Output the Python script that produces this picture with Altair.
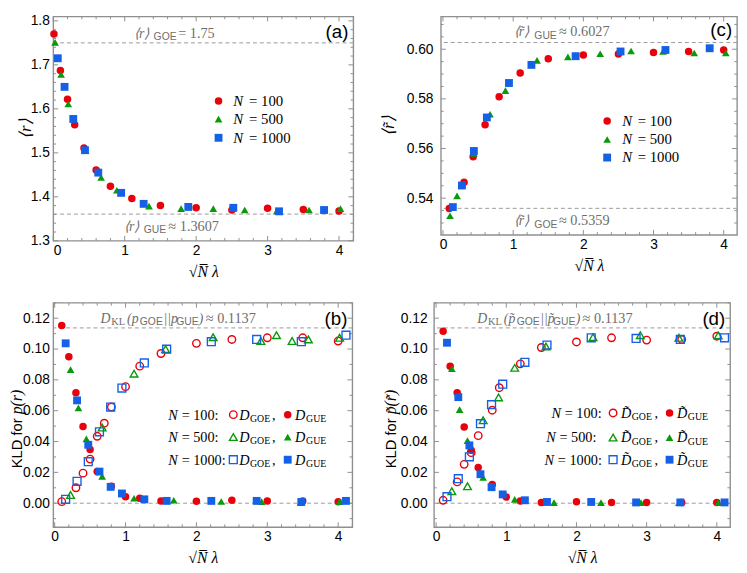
import altair as alt
import pandas as pd

SERIF = "Liberation Serif"
SANS = "Liberation Sans"
RED, GREEN, BLUE = "#e8000b", "#0a990a", "#1461e6"
TGRAY = "#6e6e6e"
DGRAY = "#9a9a9a"
FRAME = "#8f8f8f"

KEYS = ["100", "500", "1000"]

# ---------------- data: panel (a) <r> ----------------
a100_x = [0.01, 0.1, 0.2, 0.3, 0.43, 0.6, 0.8, 1.1, 1.5, 2.0, 2.5, 3.0, 3.5, 4.0]
a100_y = [1.770, 1.687, 1.622, 1.564, 1.511, 1.461, 1.424, 1.396, 1.380, 1.375, 1.370, 1.374, 1.371, 1.368]
a500_x = [0.025, 0.11, 0.21, 0.45, 0.67, 0.89, 1.34, 1.79, 2.24, 2.68, 3.13, 3.58, 4.02]
a500_y = [1.751, 1.678, 1.611, 1.505, 1.444, 1.415, 1.379, 1.373, 1.373, 1.370, 1.368, 1.370, 1.373]
a1000_x = [0.063, 0.158, 0.28, 0.444, 0.63, 0.95, 1.265, 1.89, 2.52, 3.16, 3.79]
a1000_y = [1.715, 1.650, 1.577, 1.506, 1.455, 1.409, 1.384, 1.377, 1.375, 1.367, 1.370]

# ---------------- data: panel (c) <r~> ----------------
c100_x = [0.09, 0.3, 0.43, 0.6, 0.8, 1.1, 1.5, 2.0, 2.5, 3.0, 3.5, 4.0]
c100_y = [0.5358, 0.5464, 0.5567, 0.5696, 0.5809, 0.5904, 0.5962, 0.5977, 0.5981, 0.5987, 0.5991, 0.5997]
c500_x = [0.10, 0.20, 0.44, 0.67, 0.89, 1.34, 1.78, 2.24, 2.68, 3.135, 3.58, 4.03]
c500_y = [0.5329, 0.5409, 0.5580, 0.5738, 0.5833, 0.5955, 0.5969, 0.5982, 0.5993, 0.5991, 0.5985, 0.5985]
c1000_x = [0.14, 0.27, 0.44, 0.625, 0.94, 1.26, 1.89, 2.53, 3.17, 3.80]
c1000_y = [0.5364, 0.5451, 0.5590, 0.5725, 0.5864, 0.5937, 0.5972, 0.5991, 0.5997, 0.6004]

# ---------------- data: panel (b) KLD for p(r) ----------------
b100_goe_x = [0.1, 0.3, 0.4, 0.5, 0.6, 0.7, 0.8, 1.0, 1.2, 1.5, 2.0, 2.5, 3.0, 3.5, 4.0]
b100_goe_y = [0.0010, 0.0100, 0.0195, 0.0286, 0.0434, 0.0519, 0.0624, 0.0756, 0.0889, 0.0971, 0.1037, 0.1062, 0.1073, 0.1073, 0.1052]
b100_gue_x = [0.1, 0.2, 0.3, 0.4, 0.5, 0.6, 0.8, 1.0, 1.2, 1.5, 2.0, 2.5, 3.0, 3.5, 4.0]
b100_gue_y = [0.1153, 0.0950, 0.0717, 0.0497, 0.0349, 0.0205, 0.0110, 0.0042, 0.0032, 0.0015, 0.0013, 0.0019, 0.0015, 0.0015, 0.0010]
b500_goe_x = [0.224, 0.67, 1.12, 1.565, 2.236, 2.91, 3.13, 3.35, 3.58, 4.02]
b500_goe_y = [0.0053, 0.0491, 0.0840, 0.0999, 0.1077, 0.1052, 0.1090, 0.1052, 0.1062, 0.1073]
b500_gue_x = [0.224, 0.335, 0.447, 0.67, 1.12, 1.68, 2.35, 2.92, 3.47, 4.02]
b500_gue_y = [0.0866, 0.0618, 0.0417, 0.0174, 0.0032, 0.0019, 0.0011, 0.0010, 0.0004, 0.0010]
b1000_x = [0.155, 0.316, 0.474, 0.632, 0.79, 0.949, 1.265, 1.58, 2.21, 2.85, 3.48, 4.11]
b1000_goe_y = [0.0025, 0.0142, 0.0269, 0.0463, 0.0624, 0.0747, 0.0910, 0.0999, 0.1048, 0.1062, 0.1048, 0.1090]
b1000_gue_y = [0.1037, 0.0667, 0.0379, 0.0205, 0.0106, 0.0063, 0.0025, 0.0015, 0.0015, 0.0015, 0.0008, 0.0015]

# ---------------- data: panel (d) KLD for p~(r~) ----------------
d100_goe_x = [0.1, 0.3, 0.4, 0.5, 0.6, 0.8, 0.9, 1.2, 1.5, 2.0, 2.5, 3.0, 3.5, 4.0]
d100_goe_y = [0.0019, 0.0138, 0.0252, 0.0328, 0.0438, 0.0603, 0.0749, 0.0904, 0.1010, 0.1046, 0.1073, 0.1058, 0.1062, 0.1083]
d100_gue_x = [0.1, 0.2, 0.3, 0.4, 0.5, 0.6, 0.8, 1.0, 1.2, 1.5, 2.0, 2.5, 3.0, 3.5, 4.0]
d100_gue_y = [0.1115, 0.0889, 0.0717, 0.0495, 0.0343, 0.0231, 0.0121, 0.0040, 0.0015, 0.0005, 0.0009, 0.0005, 0.0005, 0.0005, 0.0005]
d500_goe_x = [0.224, 0.447, 0.67, 0.89, 1.12, 1.565, 2.236, 2.91, 3.46, 4.02]
d500_goe_y = [0.0078, 0.0110, 0.0538, 0.0686, 0.0878, 0.1016, 0.1077, 0.1090, 0.1073, 0.1088]
d500_gue_x = [0.224, 0.335, 0.447, 0.67, 1.12, 1.68, 2.35, 2.92, 3.46, 4.02]
d500_gue_y = [0.0872, 0.0607, 0.0406, 0.0167, 0.0025, 0.0004, 0.0004, 0.0004, 0.0004, 0.0004]
d1000_x = [0.155, 0.316, 0.474, 0.632, 0.79, 0.949, 1.265, 1.58, 2.21, 2.85, 3.48, 4.11]
d1000_goe_y = [0.0042, 0.0159, 0.0301, 0.0516, 0.0639, 0.0772, 0.0914, 0.1026, 0.1073, 0.1069, 0.1062, 0.1073]
d1000_gue_y = [0.1041, 0.0688, 0.0375, 0.0188, 0.0104, 0.0057, 0.0019, 0.0008, 0.0008, 0.0005, 0.0005, 0.0005]

# reference lines
a_lines = [1.75, 1.3607]
c_lines = [0.6027, 0.5359]
kl_lines = [0.0, 0.1137]

# tick labels
x_major = [0, 1, 2, 3, 4]
a_y_major = [1.3, 1.4, 1.5, 1.6, 1.7, 1.8]
c_y_major = [0.54, 0.56, 0.58, 0.60]
kl_y_major = [0.0, 0.02, 0.04, 0.06, 0.08, 0.10, 0.12]

csc = alt.Scale(domain=KEYS, range=[RED, GREEN, BLUE])
ssc = alt.Scale(domain=KEYS, range=["circle", "triangle-up", "square"])
zsc = alt.Scale(domain=KEYS, range=[58, 64, 52])


def make_df(series):
    rows = []
    for key, kind, xs, ys in series:
        for x, y in zip(xs, ys):
            rows.append({"x": x, "y": y, "N": key, "kind": kind})
    return pd.DataFrame(rows)


def T(text, px, py, size=14.5, font=SERIF, style="normal", color="black",
      align="left", baseline="alphabetic", angle=0):
    return alt.Chart(pd.DataFrame({"t": [text]})).mark_text(
        align=align, baseline=baseline, font=font, fontSize=size,
        fontStyle=style, color=color, angle=angle
    ).encode(text="t:N", x=alt.value(px), y=alt.value(py))


def S(key, filled, px, py):
    return alt.Chart(pd.DataFrame({"N": [key]})).mark_point(
        filled=filled, opacity=1, strokeWidth=(0 if filled else 1.4)
    ).encode(
        x=alt.value(px), y=alt.value(py),
        color=alt.Color("N:N", scale=csc, legend=None),
        shape=alt.Shape("N:N", scale=ssc, legend=None),
        size=alt.Size("N:N", scale=zsc, legend=None),
    )


def frange(lo, hi, step):
    out = []
    i = 0
    while True:
        v = round(lo + i * step, 6)
        if v > hi + 1e-9:
            break
        out.append(v)
        i += 1
    return out


def panel(W, H, xdom, ydom, yvals, yfmt, ylp, ymin_step, series, lines, extra):
    xsc = alt.Scale(domain=xdom, nice=False, zero=False)
    ysc = alt.Scale(domain=ydom, nice=False, zero=False)
    xax = alt.Axis(values=x_major, format="d", title="√N̅ λ", ticks=False, tickSize=0,
                   domain=False, grid=False, labelPadding=3, titlePadding=6)
    yax = alt.Axis(values=yvals, format=yfmt, title=None, ticks=False, tickSize=0,
                   domain=False, grid=False, labelPadding=ylp)
    XE = alt.X("x:Q", scale=xsc, axis=xax, title="√N̅ λ")
    YE = alt.Y("y:Q", scale=ysc, axis=yax, title=None)
    df = make_df(series)
    layers = []
    # dashed reference lines
    layers.append(alt.Chart(pd.DataFrame({"y": lines})).mark_rule(
        color=DGRAY, strokeDash=[4, 3], strokeWidth=1).encode(y=YE))
    # ticks (inward, all four sides)
    xmin_t = [v for v in frange(0, 4.2, 0.2) if xdom[0] <= v <= xdom[1] and abs(v - round(v)) > 1e-6]
    ymaj_t = [v for v in yvals if ydom[0] <= v <= ydom[1]]
    ymin_t = [v for v in frange(ymin_step * int(ydom[0] / ymin_step), ydom[1], ymin_step)
              if ydom[0] <= v <= ydom[1] and min(abs(v - m) for m in yvals) > 1e-6]
    for vals, ln in [(x_major, 5), (xmin_t, 2.8)]:
        tdf = pd.DataFrame({"x": vals})
        layers.append(alt.Chart(tdf).mark_rule(color=FRAME, strokeWidth=1).encode(
            x=XE, y=alt.value(H), y2=alt.value(H - ln)))
        layers.append(alt.Chart(tdf).mark_rule(color=FRAME, strokeWidth=1).encode(
            x=XE, y=alt.value(0), y2=alt.value(ln)))
    for vals, ln in [(ymaj_t, 5), (ymin_t, 2.8)]:
        tdf = pd.DataFrame({"y": vals})
        layers.append(alt.Chart(tdf).mark_rule(color=FRAME, strokeWidth=1).encode(
            y=YE, x=alt.value(0), x2=alt.value(ln)))
        layers.append(alt.Chart(tdf).mark_rule(color=FRAME, strokeWidth=1).encode(
            y=YE, x=alt.value(W), x2=alt.value(W - ln)))
    # data points
    for key in KEYS:
        for kind in ["GOE", "GUE", "avg"]:
            sub = df[(df.N == key) & (df.kind == kind)]
            if len(sub) == 0:
                continue
            filled = kind != "GOE"
            layers.append(alt.Chart(sub).mark_point(
                filled=filled, opacity=1, strokeWidth=(0 if filled else 1.4)).encode(
                x=XE, y=YE,
                color=alt.Color("N:N", scale=csc, legend=None),
                shape=alt.Shape("N:N", scale=ssc, legend=None),
                size=alt.Size("N:N", scale=zsc, legend=None)))
    layers.extend(extra)
    return alt.layer(*layers).properties(width=W, height=H)


def py(v, H, ydom):
    return H * (ydom[1] - v) / (ydom[1] - ydom[0])


def runs(lst, base):
    out = []
    for text, px, kind in lst:
        if kind == "it":
            out.append(T(text, px, base, 14, SERIF, "italic", TGRAY))
        elif kind == "rm":
            out.append(T(text, px, base, 14.5, SERIF, "normal", TGRAY))
        elif kind == "sub":
            out.append(T(text, px, base + 2.5, 10.5, SANS, "normal", TGRAY))
        elif kind == "subs":
            out.append(T(text, px, base + 2.5, 10.5, SERIF, "normal", TGRAY))
    return out


# ---------------- panel (a) ----------------
AW, AH = 305, 228
A_xd, A_yd = [0, 4.2], [1.3, 1.81]
a_extra = []
a_extra += runs([("⟨r⟩", 82, "it"), ("GOE", 102, "sub"), ("= 1.75", 127, "rm")], py(1.75, AH, A_yd) - 5)
a_extra += runs([("⟨r⟩", 72, "it"), ("GUE", 92, "sub"), ("≈ 1.3607", 117, "rm")], py(1.3607, AH, A_yd) + 17)
for key, ry, lab in [("100", 86, "= 100"), ("500", 104.3, "= 500"), ("1000", 123.3, "= 1000")]:
    a_extra.append(S(key, True, 168, ry))
    a_extra.append(T("N", 183, ry + 5, 15, SERIF, "italic"))
    a_extra.append(T(lab, 199, ry + 5, 15, SERIF))
a_extra.append(T("(a)", AW - 5, 22, 19, SANS, align="right"))
a_extra.append(T("⟨r⟩", -28, AH / 2, 17, SERIF, "italic", align="center", baseline="middle", angle=270))
A = panel(AW, AH, A_xd, A_yd, a_y_major, ".1f", 4, 0.02,
          [("100", "avg", a100_x, a100_y), ("500", "avg", a500_x, a500_y), ("1000", "avg", a1000_x, a1000_y)],
          a_lines, a_extra)

# ---------------- panel (c) ----------------
CW, CH = 301, 222
C_xd, C_yd = [-0.03, 4.19], [0.5252, 0.6132]
c_extra = []
c_extra += runs([("⟨r̃⟩", 74, "it"), ("GUE", 95, "sub"), ("≈ 0.6027", 120, "rm")], py(0.6027, CH, C_yd) - 6.5)
c_extra += runs([("⟨r̃⟩", 74, "it"), ("GOE", 95, "sub"), ("≈ 0.5359", 120, "rm")], py(0.5359, CH, C_yd) + 17)
for key, ry, lab in [("100", 106.3, "= 100"), ("500", 125, "= 500"), ("1000", 143.4, "= 1000")]:
    c_extra.append(S(key, True, 169, ry))
    c_extra.append(T("N", 184.4, ry + 5, 15, SERIF, "italic"))
    c_extra.append(T(lab, 200, ry + 5, 15, SERIF))
c_extra.append(T("(c)", CW - 5, 20, 19, SANS, align="right"))
c_extra.append(T("⟨r̃⟩", -53, CH / 2, 17, SERIF, "italic", align="center", baseline="middle", angle=270))
C = panel(CW, CH, C_xd, C_yd, c_y_major, ".2f", 8, 0.005,
          [("100", "avg", c100_x, c100_y), ("500", "avg", c500_x, c500_y), ("1000", "avg", c1000_x, c1000_y)],
          c_lines, c_extra)

# ---------------- panel (b) ----------------
BW, BH = 304, 228
B_xd, B_yd = [-0.02, 4.2], [-0.0155, 0.130]
b_extra = []
b_extra += runs([("D", 48, "it"), ("KL", 59, "subs"), ("(p", 75, "it"), ("GOE", 88, "sub"),
                 ("||p", 112, "it"), ("GUE", 125, "sub"), (")", 148, "it"), ("≈ 0.1137", 155, "rm")],
                py(0.1137, BH, B_yd) - 5.5)
for key, bl, lab in [("100", 118.7, "= 100:"), ("500", 141.5, "= 500:"), ("1000", 164.5, "= 1000:")]:
    b_extra.append(T("N", 117, bl, 14.5, SERIF, "italic"))
    b_extra.append(T(lab, 130.5, bl, 14.5, SERIF))
    b_extra.append(S(key, False, 183, bl - 5))
    b_extra.append(T("D", 189, bl, 14.5, SERIF, "italic"))
    b_extra.append(T("GOE", 200, bl + 2.5, 10, SERIF))
    b_extra.append(T(",", 222.3, bl, 14.5, SERIF))
    b_extra.append(S(key, True, 238.3, bl - 5))
    b_extra.append(T("D", 245.7, bl, 14.5, SERIF, "italic"))
    b_extra.append(T("GUE", 257, bl + 2.5, 10, SERIF))
b_extra.append(T("(b)", BW - 5, 22.5, 19, SANS, align="right"))
b_extra.append(T("KLD for", -36.5, 168.3, 15, SANS, align="left", baseline="middle", angle=270))
b_extra.append(T("p(r)", -36.5, 113.3, 16, SERIF, "italic", align="left", baseline="middle", angle=270))
B = panel(BW, BH, B_xd, B_yd, kl_y_major, ".2f", 4, 0.01,
          [("100", "GOE", b100_goe_x, b100_goe_y), ("100", "GUE", b100_gue_x, b100_gue_y),
           ("500", "GOE", b500_goe_x, b500_goe_y), ("500", "GUE", b500_gue_x, b500_gue_y),
           ("1000", "GOE", b1000_x, b1000_goe_y), ("1000", "GUE", b1000_x, b1000_gue_y)],
          kl_lines, b_extra)

# ---------------- panel (d) ----------------
DW, DH = 301, 228
D_xd, D_yd = [-0.03, 4.19], [-0.0155, 0.130]
d_extra = []
d_extra += runs([("D", 44, "it"), ("KL", 55, "subs"), ("(p̃", 71, "it"), ("GOE", 84, "sub"),
                 ("||p̃", 108, "it"), ("GUE", 121, "sub"), (")", 144, "it"), ("≈ 0.1137", 151, "rm")],
                py(0.1137, DH, D_yd) - 5.5)
for key, bl, nx, lab in [("100", 117, 119.4, "= 100:"), ("500", 142, 114, "= 500:"), ("1000", 164.5, 112.4, "= 1000:")]:
    d_extra.append(T("N", nx, bl, 14.5, SERIF, "italic"))
    d_extra.append(T(lab, nx + 13.5, bl, 14.5, SERIF))
    d_extra.append(S(key, False, 182, bl - 5))
    d_extra.append(T("D̃", 190, bl, 14.5, SERIF, "italic"))
    d_extra.append(T("GOE", 201, bl + 2.5, 10, SERIF))
    d_extra.append(T(",", 224, bl, 14.5, SERIF))
    d_extra.append(S(key, True, 239.4, bl - 5))
    d_extra.append(T("D̃", 247, bl, 14.5, SERIF, "italic"))
    d_extra.append(T("GUE", 258, bl + 2.5, 10, SERIF))
d_extra.append(T("(d)", DW - 5, 22.5, 19, SANS, align="right"))
d_extra.append(T("KLD for", -43.3, 168.3, 15, SANS, align="left", baseline="middle", angle=270))
d_extra.append(T("p̃(r̃)", -43.3, 113.3, 16, SERIF, "italic", align="left", baseline="middle", angle=270))
D = panel(DW, DH, D_xd, D_yd, kl_y_major, ".2f", 7, 0.01,
          [("100", "GOE", d100_goe_x, d100_goe_y), ("100", "GUE", d100_gue_x, d100_gue_y),
           ("500", "GOE", d500_goe_x, d500_goe_y), ("500", "GUE", d500_gue_x, d500_gue_y),
           ("1000", "GOE", d1000_x, d1000_goe_y), ("1000", "GUE", d1000_x, d1000_gue_y)],
          kl_lines, d_extra)

row1 = alt.hconcat(A, C, spacing=24)
row2 = alt.hconcat(B, D, spacing=29)
chart = alt.vconcat(row1, row2, spacing=21, padding=0).configure_view(
    stroke=FRAME, strokeWidth=1.4
).configure_axis(
    labelFont=SANS, labelFontSize=14, labelColor="black",
    titleFont=SERIF, titleFontSize=16, titleFontStyle="italic",
    titleFontWeight="normal", titleColor="black"
)

chart.save("out.html", embed_options={"renderer": "svg", "actions": False})
